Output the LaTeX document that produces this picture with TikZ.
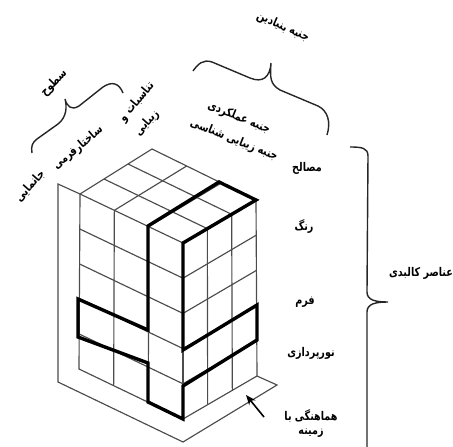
\documentclass[tikz,border=0pt]{standalone}
\usepackage{fontspec}
\newfontfamily\farsi[Script=Arabic,FakeStretch=0.8]{DejaVu Sans Bold}
\TeXXeTstate=1
\usetikzlibrary{calc,arrows.meta}
\tikzset{
  thinline/.style={line width=1.15pt,draw=black!70},
  thickline/.style={line width=3.4pt,line join=miter},
  bracket/.style={line width=1.4pt,draw=black!85},
  label/.style={font=\farsi\fontsize{12}{14}\selectfont,inner sep=0pt,align=center}
}
\newcommand{\fa}[1]{\beginR #1\endR}
\begin{document}
\begin{tikzpicture}[x=1pt,y=-1pt]
  \useasboundingbox (0,0) rectangle (453,447);
  % block corners
  \coordinate (K) at (152,149);
  \coordinate (L) at (80,194);
  \coordinate (R) at (256,200);
  \coordinate (F) at (183,243);
  \coordinate (LB) at (79,369);
  \coordinate (RB) at (257,376);
  \coordinate (FB) at (183,419);

  % ground
  \coordinate (G1) at (58,184);
  \coordinate (G2) at (58,382);
  \coordinate (G3) at (183,442);
  \coordinate (G4) at (277,385);
  \draw[thinline] (L) -- (G1) -- (G2) -- (G3) -- (G4) -- (RB);

  % grid on the three faces
  \draw[thinline] (K) -- (L) -- (LB) -- (FB) -- (RB) -- (R) -- cycle;
  \draw[thinline] (L) -- (F) -- (R);
  \draw[thinline] (F) -- (FB);
  \foreach \i in {1,2} {
    \draw[thinline] ($(L)!\i/3!(K)$) -- ($(F)!\i/3!(R)$);
    \draw[thinline] ($(L)!\i/3!(F)$) -- ($(K)!\i/3!(R)$);
    \draw[thinline] ($(L)!\i/3!(F)$) -- ($(LB)!\i/3!(FB)$);
    \draw[thinline] ($(F)!\i/3!(R)$) -- ($(FB)!\i/3!(RB)$);
  }
  \foreach \i in {1,2,3,4} {
    \draw[thinline] ($(L)!\i/5!(LB)$) -- ($(F)!\i/5!(FB)$) -- ($(R)!\i/5!(RB)$);
  }

  % heavy outline
  \coordinate (A) at (148,330);
  \coordinate (B) at (148,226);
  \coordinate (C) at (219,182);
  \coordinate (D) at (183,350);
  \coordinate (E) at (257,305);
  \coordinate (H) at (257,340);
  \coordinate (I) at (183,386);
  \coordinate (J) at (148,402);
  \coordinate (M) at (148,363);
  \coordinate (N) at (78,337);
  \coordinate (O) at (78,299);
  \draw[thickline] (O) -- (A) -- (B) -- (C) -- (R) -- (F) -- (D) -- (E) -- (H)
    -- (I) -- (FB) -- (J) -- (M) -- (N) -- cycle;

  % arrow
  \coordinate (P) at (264,417);
  \coordinate (Q) at (246,395);
  \draw[line width=1.6pt,-{Stealth[length=10pt,width=8pt]}] (P) -- (Q);

  % right bracket
  \coordinate (S1) at (350,147);
  \coordinate (S2) at (388,302);
  \coordinate (S3) at (367,447);
  \draw[bracket] (S1) .. controls (362,147) and (368,148) .. (368,156)
    -- (367,292) .. controls (367,300) and (375,302) .. (S2)
    .. controls (375,302) and (367,304) .. (367,312) -- (S3);

  % upper brace
  \coordinate (U1) at (193,71);
  \coordinate (U2) at (271,63);
  \coordinate (U3) at (327,135);
  \draw[bracket] (U1) .. controls (198,64) and (203,59) .. (212,62)
    -- (250,78) .. controls (262,83) and (270,78) .. (U2)
    .. controls (270,78) and (270,84) .. (280,90)
    -- (318,106) .. controls (328,111) and (331,122) .. (U3);

  % left brace
  \coordinate (V1) at (32,153);
  \coordinate (V2) at (65,99);
  \coordinate (V3) at (123,93);
  \draw[bracket] (V1) .. controls (31,146) and (32,143) .. (37,139)
    -- (58,124) .. controls (67,117) and (67,106) .. (V2)
    .. controls (67,106) and (71,111) .. (79,106)
    -- (103,87) .. controls (112,81) and (119,83) .. (V3);

  % labels
  \node[label,rotate=-24] (base) at (283,27) {\fa{جنبه بنیادین}};
  \node[label,rotate=-22] (func) at (239,118) {\fa{جنبه عملکردی}};
  \node[label,rotate=-22] (beauty) at (234,140) {\fa{جنبه زیبایی شناسی}};
  \node[label,rotate=45] (surf) at (54,83) {\fa{سطوح}};
  \node[label,rotate=50] (prop) at (137,102) {\fa{تناسبات و}};
  \node[label,rotate=48] (pretty) at (147,123) {\fa{زیبایی}};
  \node[label,rotate=40] (struct) at (78,148) {\fa{ساختارفرمی}};
  \node[label,rotate=48] (place) at (30,186) {\fa{جانمایی}};
  \node[label] (mat) at (307,168) {\fa{مصالح}};
  \node[label] (col) at (304,227) {\fa{رنگ}};
  \node[label] (form) at (305,302) {\fa{فرم}};
  \node[label] (light) at (311,353) {\fa{نورپردازی}};
  \node[label] (ctx) at (311,424) {\fa{هماهنگی با}\\\fa{زمینه}};
  \node[label] (phys) at (421,273) {\fa{عناصر کالبدی}};
\end{tikzpicture}
\end{document}
